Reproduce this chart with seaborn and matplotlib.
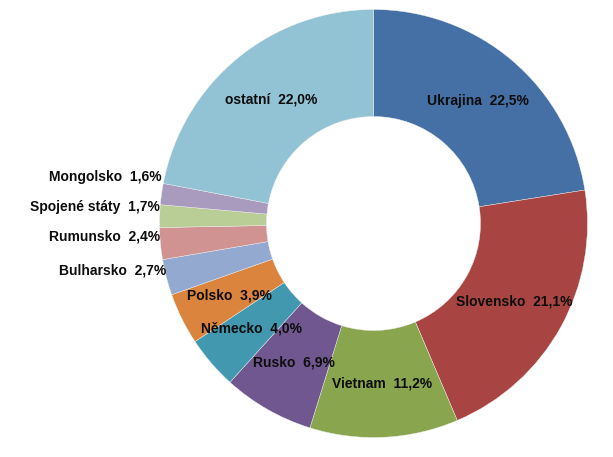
import numpy as np
import matplotlib
matplotlib.use("Agg")
import matplotlib.pyplot as plt
import seaborn as sns

categories = ["Ukrajina", "Slovensko", "Vietnam", "Rusko", "Německo", "Polsko",
              "Bulharsko", "Rumunsko", "Spojené státy", "Mongolsko", "ostatní"]
values = [22.5, 21.1, 11.2, 6.9, 4.0, 3.9, 2.7, 2.4, 1.7, 1.6, 22.0]
colors = ["#4470A5", "#A84543", "#89A54E", "#71578F", "#4198AF", "#DB843D",
          "#93A9CF", "#D09392", "#B9CD96", "#A99BBD", "#92C3D4"]
outside = ["Bulharsko", "Rumunsko", "Spojené státy", "Mongolsko"]

sns.set_theme(style="white")
plt.rcParams['font.family'] = ['Liberation Sans', 'DejaVu Sans']

W, H = 613, 457
fig = plt.figure(figsize=(W / 100, H / 100), dpi=100)
ax = fig.add_axes([0, 0, 1, 1])
cx, cy, R = 373.5, 223.5, 214.0

wedges, _ = ax.pie(values, colors=colors, startangle=90, counterclock=False,
                   radius=1.0, wedgeprops=dict(width=0.5, edgecolor='#f0f0f0', linewidth=0.3))
ax.set_xlim(-cx / R, (W - cx) / R)
ax.set_ylim(-(H - cy) / R, cy / R)
ax.set_aspect('auto')
ax.axis('off')

def fmt(v):
    return f"{v:.1f}".replace('.', ',') + "%"

txtkw = dict(fontsize=10, fontweight='bold', color='#0d0d0d')
out_items = []
for w, name, v in zip(wedges, categories, values):
    mid = np.deg2rad((w.theta1 + w.theta2) / 2)
    label = f"{name}  {fmt(v)}"
    if name in outside:
        out_items.append([np.cos(mid), np.sin(mid), label])
    else:
        r = 0.75
        ax.text(r * np.cos(mid), r * np.sin(mid), label, ha='center', va='center', **txtkw)

# outside labels: right aligned at outer edge, spread upward to avoid overlap
gap = 30 / R
text_h = 7 / R
prev = None
for item in out_items:
    x, y, label = item
    yc = y + text_h
    if prev is not None and yc < prev + gap:
        yc = prev + gap
    prev = yc
    ax.text(x, yc, label, ha='right', va='center', **txtkw)

fig.savefig("out.png", dpi=100, facecolor='white')
